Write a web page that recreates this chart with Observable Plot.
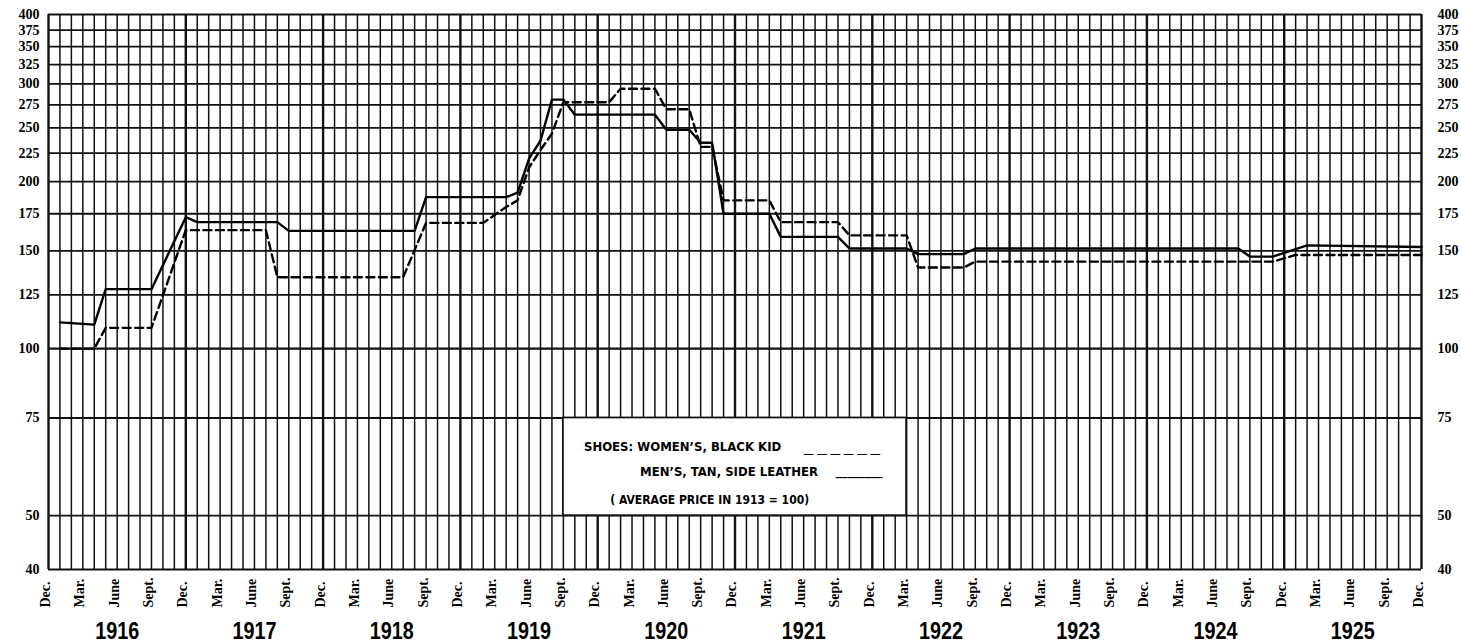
<!DOCTYPE html>
<html>
<head>
<meta charset="utf-8">
<script src="https://cdn.jsdelivr.net/npm/d3@7"></script>
<script src="https://cdn.jsdelivr.net/npm/@observablehq/plot@0.6"></script>
<style>
  body { margin: 0; background: #fff; }
  #chart svg { display: block; }
</style>
</head>
<body>
<div id="chart"></div>
<script>
// ---- Data (months counted from Dec. 1915 = 0) ----
const yTicks = [40, 50, 75, 100, 125, 150, 175, 200, 225, 250, 275, 300, 325, 350, 375, 400];
const quarterLabels = ["Dec.", "Mar.", "June", "Sept."];
const years = [1916, 1917, 1918, 1919, 1920, 1921, 1922, 1923, 1924, 1925];

// Men's, tan, side leather (solid)
const mensMonths = [1, 4, 5, 9, 12, 13, 20, 21, 32, 33, 40, 41, 42, 43, 44, 45, 46, 53, 54, 56, 57, 58, 59, 63, 64, 69, 70, 75, 76, 80, 81, 104, 105, 107, 110, 120];
const mensValues = [111.5, 110.5, 128, 128, 172.5, 169, 169, 163, 163, 187.5, 187.5, 191, 220, 237, 281, 281, 264, 264, 248, 248, 235, 235, 175, 175, 159, 159, 151.5, 151.5, 148, 148, 151.5, 151.5, 146.5, 146.5, 153.5, 152.5];

// Women's, black kid (dashed)
const womensMonths = [1, 4, 5, 9, 12, 19, 20, 31, 33, 38, 40, 41, 42, 43, 44, 45, 49, 50, 53, 54, 56, 57, 58, 59, 63, 64, 69, 70, 75, 76, 80, 81, 107, 109, 120];
const womensValues = [100, 100, 109, 109, 163.5, 163.5, 134.5, 134.5, 168.5, 168.5, 180, 185, 212, 228, 244, 278, 278, 294, 294, 270, 270, 231, 231, 185, 185, 169, 169, 160, 160, 140, 140, 143.5, 143.5, 147.5, 147.5];

const legendLabels = ["SHOES: WOMEN’S, BLACK KID", "MEN’S, TAN, SIDE LEATHER"];
const legendSamples = ["__ __ __ __ __ __", "________"];
const legendNote = "( AVERAGE PRICE IN 1913 = 100)";

// ---- Derived tables ----
const months = d3.range(0, 121);
const quarters = d3.range(0, 121, 3);
const mens = mensMonths.map((m, i) => ({m, v: mensValues[i]}));
const womens = womensMonths.map((m, i) => ({m, v: womensValues[i]}));
const yearRows = years.map((y, i) => ({y, m: i * 12 + 6}));

const serif = "'Liberation Serif', 'DejaVu Serif', serif";
const hand = "'DejaVu Sans Condensed', 'Liberation Sans Narrow', 'DejaVu Sans', sans-serif";
const yearFont = "'Liberation Sans', 'Roboto', sans-serif";

const chart = Plot.plot({
  width: 1461,
  height: 643,
  marginLeft: 48,
  marginRight: 40,
  marginTop: 14,
  marginBottom: 74,
  style: {background: "#fff", color: "#000", overflow: "visible"},
  x: {domain: [0, 120], axis: null},
  y: {type: "log", domain: [40, 400], axis: null},
  marks: [
    // monthly vertical grid
    Plot.ruleX(months, {x: d => d, y1: 40, y2: 400, stroke: "#111",
      strokeWidth: d => (d % 12 === 0 ? 2.4 : 1.5)}),
    // horizontal grid
    Plot.ruleY(yTicks, {y: d => d, x1: 0, x2: 120, stroke: "#111",
      strokeWidth: d => (d === 100 ? 2.4 : 1.8)}),
    // legend box
    Plot.rect([0], {x1: () => 45, x2: () => 75, y1: () => 50, y2: () => 75,
      fill: "#fff", stroke: "#111", strokeWidth: 1.8}),
    // series
    Plot.line(womens, {x: "m", y: "v", stroke: "#000", strokeWidth: 2.4,
      strokeDasharray: "8,4.5", curve: "linear"}),
    Plot.line(mens, {x: "m", y: "v", stroke: "#000", strokeWidth: 2.4, curve: "linear"}),
    // y tick labels, both sides
    Plot.text(yTicks, {y: d => d, frameAnchor: "left", dx: -9, text: d => String(d),
      textAnchor: "end", lineAnchor: "middle", fontSize: 14, fontWeight: "bold", fontFamily: serif}),
    Plot.text(yTicks, {y: d => d, frameAnchor: "right", dx: 16, text: d => String(d),
      textAnchor: "start", lineAnchor: "middle", fontSize: 14, fontWeight: "bold", fontFamily: serif}),
    // month labels
    Plot.text(quarters, {x: d => d, frameAnchor: "bottom", dy: 38, dx: -3,
      text: d => quarterLabels[(d / 3) % 4], rotate: -90, textAnchor: "start",
      lineAnchor: "middle", fontSize: 14, fontWeight: "bold", fontFamily: serif}),
    // year labels
    Plot.text(yearRows, {x: "m", frameAnchor: "bottom", dy: 69, text: d => String(d.y),
      lineAnchor: "bottom", textAnchor: "middle", fontSize: 24, fontWeight: "bold", fontFamily: yearFont}),
    // legend
    Plot.text([legendLabels[0]], {x: () => 46.8, y: () => 75, dy: 33, text: d => d,
      textAnchor: "start", lineAnchor: "bottom", fontSize: 13, fontWeight: "bold", fontFamily: hand}),
    Plot.text([legendLabels[1]], {x: () => 51.7, y: () => 75, dy: 58, text: d => d,
      textAnchor: "start", lineAnchor: "bottom", fontSize: 13, fontWeight: "bold", fontFamily: hand}),
    Plot.text([legendSamples[0]], {x: () => 66.0, y: () => 75, dy: 34, text: d => d,
      textAnchor: "start", lineAnchor: "bottom", fontSize: 11, fontWeight: "bold", fontFamily: hand}),
    Plot.text([legendSamples[1]], {x: () => 68.8, y: () => 75, dy: 57, text: d => d,
      textAnchor: "start", lineAnchor: "bottom", fontSize: 13, fontWeight: "bold", fontFamily: hand}),
    Plot.text([legendNote], {x: () => 49.1, y: () => 75, dy: 86, text: d => d,
      textAnchor: "start", lineAnchor: "bottom", fontSize: 12, fontWeight: "bold", fontFamily: hand})
  ]
});

// condense the hand-lettered year labels to the original's narrow proportions
d3.select(chart).selectAll("text")
  .filter(function () { return years.includes(+this.textContent); })
  .attr("textLength", 44)
  .attr("lengthAdjust", "spacingAndGlyphs");

document.getElementById("chart").appendChild(chart);
</script>
</body>
</html>
